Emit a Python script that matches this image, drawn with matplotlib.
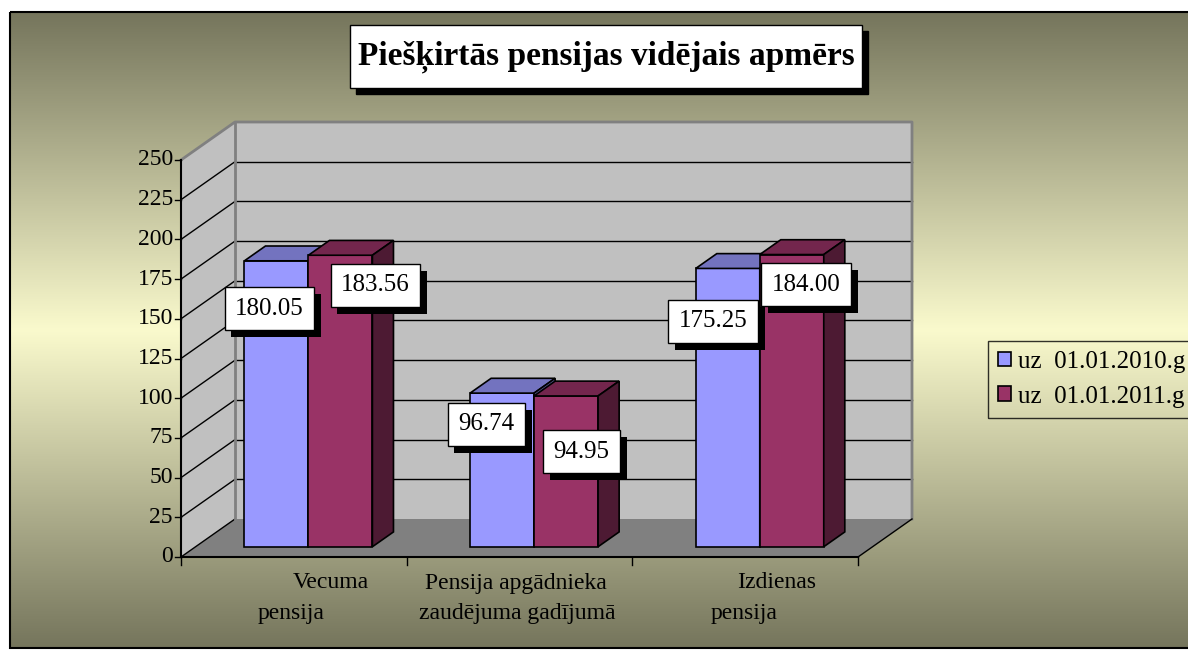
import matplotlib.pyplot as plt
from matplotlib.patches import Polygon, Rectangle
import matplotlib.patheffects as pe
import numpy as np

plt.rcParams['font.family'] = ['Liberation Serif', 'DejaVu Serif']

# data
cat_lines = [["Vecuma", "pensija"],
             ["Pensija apgādnieka", "zaudējuma gadījumā"],
             ["Izdienas", "pensija"]]
series_names = ["uz  01.01.2010.g", "uz  01.01.2011.g"]
values_2010 = [180.05, 96.74, 175.25]
values_2011 = [183.56, 94.95, 184.00]
y_ticks = [0, 25, 50, 75, 100, 125, 150, 175, 200, 225, 250]
title = "Piešķirtās pensijas vidējais apmērs"

# label offsets in pixels (labels were dragged by hand in the original)
label_off = [[(-7, -48), (-16, -31), (-15, -53)],
             [(35, -30), (15, -56), (14, -30)]]
# category label line offsets (px from category centre)
line1_dx = [-1, -94, -8]
line2_dx = [-36, -100, -35]

W, H = 1188, 650
fig = plt.figure(figsize=(W / 100, H / 100), dpi=100)

# ---- background, border, title (pixel coords)
bg = fig.add_axes([0, 0, 1, 1])
bg.set_xlim(0, W)
bg.set_ylim(H, 0)
bg.axis('off')
t = np.linspace(0, 1, 400)
t = 1 - np.abs(t - 0.5) * 2
dark = np.array([117, 117, 92]) / 255
light = np.array([250, 250, 205]) / 255
grad = dark + (light - dark) * t[:, None]
bg.imshow(grad[:, None, :], extent=(10, W, 648, 12), aspect='auto',
          interpolation='bilinear')
bg.add_patch(Rectangle((10, 12), W, 636, fill=False, ec='black', lw=1.5))
bg.add_patch(Rectangle((356, 31), 512, 63, fc='black', ec='black'))
bg.add_patch(Rectangle((350, 25), 512, 63, fc='white', ec='black', lw=1))
bg.text(606, 57, title, ha='center', va='center', fontsize=24,
        fontweight='bold')

# ---- plot axes: x in categories, y in values
ax = fig.add_axes([0, 0, 1, 1])
ax.patch.set_visible(False)
ax.axis('off')
sx = 677 / 3
sy = 397 / 250
ax.set_xlim(-181 / sx, (W - 181) / sx)
ax.set_ylim(-(H - 557) / sy, 557 / sy)

n = len(values_2010)
ymax = y_ticks[-1]
DX, DY = 54 / sx, 38 / sy

# walls and floor
ax.add_patch(Polygon([(0, 0), (DX, DY), (DX, ymax + DY), (0, ymax)],
                     fc='#c0c0c0', ec='none', zorder=1))
ax.add_patch(Polygon([(DX, DY), (n + DX, DY), (n + DX, ymax + DY), (DX, ymax + DY)],
                     fc='#c0c0c0', ec='none', zorder=1))
ax.add_patch(Polygon([(0, 0), (n, 0), (n + DX, DY), (DX, DY)],
                     fc='#808080', ec='none', zorder=1))
for v in y_ticks[1:-1]:
    ax.plot([DX, n + DX], [v + DY, v + DY], color='black', lw=1, zorder=2)
for v in y_ticks[:-1]:
    ax.plot([0, DX], [v, v + DY], color='black', lw=1, zorder=2)
ax.plot([0, DX, n + DX, n + DX], [ymax, ymax + DY, ymax + DY, DY],
        color='#808080', lw=2, zorder=2)
ax.plot([DX, DX], [DY, ymax + DY], color='#808080', lw=2, zorder=2)
ax.plot([n, n + DX], [0, DY], color='black', lw=1, zorder=2)

# axes lines and ticks
ax.plot([0, 0], [0, ymax], color='black', lw=1.5, zorder=2)
ax.plot([0, n], [0, 0], color='black', lw=1.5, zorder=2)
for v in y_ticks:
    ax.plot([-6 / sx, 0], [v, v], color='black', lw=1, zorder=2)
    ax.text(-8 / sx, v, str(v), ha='right', va='center', fontsize=17)
for i in range(n + 1):
    ax.plot([i, i], [0, -8 / sy], color='black', lw=1, zorder=2)
for i in range(n):
    ax.text(i + 0.5 + line1_dx[i] / sx, -26 / sy, cat_lines[i][0],
            ha='left', va='center', fontsize=17)
    ax.text(i + 0.5 + line2_dx[i] / sx, -56 / sy, cat_lines[i][1],
            ha='left', va='center', fontsize=17)

# bars
f0, f1 = 0.27, 0.66
bw = 64 / sx
b0 = f0 * DY
ddx, ddy = (f1 - f0) * DX, (f1 - f0) * DY
faces = [('#9999ff', '#7373bf', '#5c5c99'),
         ('#993366', '#73264d', '#4d1a33')]
shadow = [pe.SimplePatchShadow(offset=(5, -5), shadow_rgbFace='black', alpha=1),
          pe.Normal()]
handles = []
for s, vals in enumerate([values_2010, values_2011]):
    front, top, side = faces[s]
    z = 3 + s
    xs = [i + 0.5 - bw + f0 * DX + s * bw for i in range(n)]
    bars = ax.bar(xs, vals, width=bw, bottom=b0, align='edge', color=front,
                  edgecolor='black', lw=1.2, zorder=z)
    handles.append(bars)
    for x, v in zip(xs, vals):
        yt = b0 + v
        ax.add_patch(Polygon([(x, yt), (x + bw, yt), (x + bw + ddx, yt + ddy),
                              (x + ddx, yt + ddy)], fc=top, ec='black',
                             lw=1.2, zorder=z))
        ax.add_patch(Polygon([(x + bw, b0), (x + bw + ddx, b0 + ddy),
                              (x + bw + ddx, yt + ddy), (x + bw, yt)],
                             fc=side, ec='black', lw=1.2, zorder=z))
    for i, (x, v) in enumerate(zip(xs, vals)):
        dx, dy = label_off[s][i]
        lab = ax.annotate(f"{v:.2f}", xy=(x + bw / 2, b0 + v), xytext=(dx, dy),
                          textcoords='offset pixels', ha='center', va='center',
                          fontsize=18, color='black', zorder=7,
                          bbox=dict(boxstyle='square,pad=0.42', fc='white',
                                    ec='black', lw=1))
        lab.get_bbox_patch().set_path_effects(shadow)

leg = ax.legend(handles, series_names, loc='upper left',
                bbox_to_anchor=(988 / W, 1 - 341 / H),
                bbox_transform=fig.transFigure, borderaxespad=0, fontsize=18,
                handlelength=0.52, handleheight=0.52, handletextpad=0.3,
                labelspacing=0.5, borderpad=0.4, fancybox=False,
                edgecolor='black', facecolor='none', framealpha=None)
leg.get_frame().set_linewidth(1)

fig.savefig('out.png', dpi=100)
